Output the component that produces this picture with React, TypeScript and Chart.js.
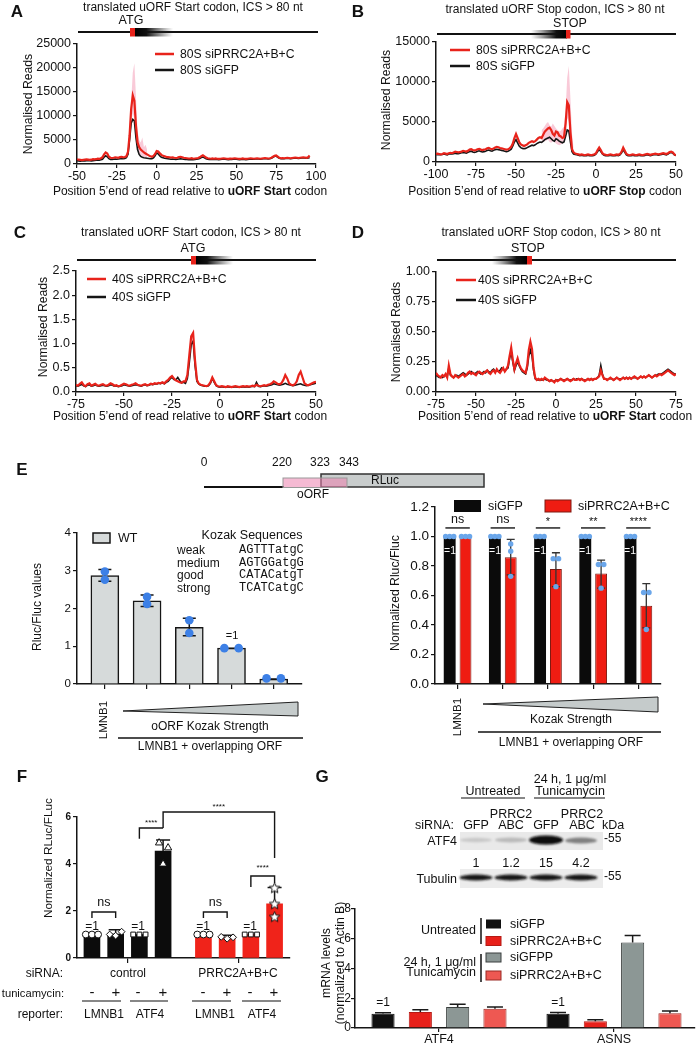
import React, { useEffect, useRef } from 'react';
import { Chart, registerables } from 'chart.js';

Chart.register(...registerables);

const SANS = '"Liberation Sans", Arial, Helvetica, sans-serif';
const MONO = '"Liberation Mono", "Courier New", monospace';
Chart.defaults.font.family = SANS;
Chart.defaults.color = '#111';

const RED = '#e8231b';
const INK = '#151515';
const PINK = 'rgba(243,150,178,0.5)';

// ================= DATA =================
// Panel A: 80S, uORF start codon (positions -50 .. 96)
const A_START = -50;
const A_RED = [
  1000, 900, 850, 800, 850, 900, 950, 900, 850, 900, 1000, 950, 1000, 1100, 1050,
  1200, 1400, 2000, 2400, 2200, 1500, 1300,
  1250, 1300, 1400, 1350, 1300, 1450, 1500, 1400, 1450, 1600,
  2500, 6000, 11500, 14300, 13200, 8000, 4500, 3500, 3000,
  2700, 2400, 2200, 2000, 1800, 1600, 1500, 1700, 2100,
  2700, 2600, 2200, 1900, 1700, 1600,
  1500, 1450, 1400, 1350, 1400, 1300, 1250, 1300, 1450, 1500, 1400, 1300, 1250, 1200, 1150,
  1150, 1200, 1100, 1150, 1200, 1250, 1400, 1650, 1800, 1600, 1350, 1200, 1150, 1100, 1150,
  1100, 1150, 1100, 1050, 1100, 1150, 1200, 1150, 1100, 1050, 1100, 1100, 1150, 1200, 1150, 1100, 1050, 1100, 1150, 1100, 1050, 1100, 1150, 1200, 1150,
  1100, 1150, 1200, 1150, 1100, 1150, 1200, 1250, 1200, 1150, 1200, 1300, 1500, 1700, 1800, 1550, 1300, 1200, 1250, 1200,
  1250, 1300, 1250, 1200, 1250, 1300, 1350, 1300, 1250, 1300, 1350, 1400, 1350, 1300, 1400, 1750,
];
const A_BLACK = [
  700, 650, 600, 650, 700, 650, 700, 750, 700, 650, 700, 750, 800, 850, 800,
  900, 1000, 1400, 1700, 1500, 1100, 950,
  950, 1000, 1050, 1000, 1050, 1100, 1150, 1100, 1150, 1300,
  2000, 5000, 8500, 9300, 9000, 5500, 3000, 2000, 1600,
  1400, 1300, 1250, 1200, 1150, 1100, 1100, 1300, 1700,
  2300, 2100, 1700, 1400, 1300, 1200,
  1150, 1100, 1050, 1000, 1050, 1000, 950, 1000, 1050, 1100, 1050, 1000, 950, 950, 900,
  900, 950, 900, 950, 1000, 1050, 1150, 1350, 1450, 1300, 1100, 1000, 950, 950, 1000,
  950, 1000, 950, 900, 950, 1000, 1050, 1000, 950, 900, 950, 950, 1000, 1050, 1000, 950, 900, 950, 1000, 950, 900, 950, 1000, 1050, 1000,
  1000, 1050, 1100, 1050, 1000, 1050, 1100, 1150, 1100, 1050, 1100, 1200, 1400, 1600, 1650, 1400, 1200, 1100, 1150, 1100,
  1150, 1200, 1150, 1100, 1150, 1200, 1250, 1200, 1150, 1200, 1250, 1300, 1250, 1200, 1250, 1300,
];
const A_BAND_START = -18;
const A_BAND_HI = [3500, 8000, 13000, 19000, 21000, 14000, 7000, 5000, 4500, 5500, 3500, 4000, 3000];
const A_BAND_LO = [1800, 4000, 8500, 10500, 9500, 5000, 3000, 2200, 1800, 1600, 1500, 1400, 1300];

// Panel B: 80S, uORF stop codon (positions -100 .. 50)
const B_START = -100;
const B_RED = [
  1000, 1050, 1000, 950, 1000, 1100, 1050, 1000, 1100, 1150, 1100, 1200, 1300, 1250, 1200,
  1250, 1300, 1400, 1350, 1300, 1400, 1550, 1600, 1500, 1450, 1500, 1600, 1650, 1550, 1500,
  1550, 1600, 1700, 1750, 1650, 1600, 1700, 1800, 1900, 1850, 1750, 1700, 1650, 1600, 1550,
  1600, 1700, 1900, 2300, 3000, 3500, 3000, 2500, 2200, 2100,
  2000, 2100, 2200, 2400, 2500, 2600, 2500, 2600, 2800, 3000, 3100, 3000, 3400, 3800, 4000,
  4200, 4300, 4000, 3500, 3300, 3800, 3700, 3300, 3200, 3000, 3100, 4800, 7500, 7100, 3800, 1600, 1200, 1050, 1000,
  950, 900, 950, 900, 850, 900, 950, 900, 850, 900, 950, 1100,
  1500, 1800, 1500, 1100, 950, 900, 850, 900, 950, 900,
  850, 900, 950, 900, 1000, 1300, 1800, 1400, 1000, 900, 850, 900, 950, 900, 850,
  900, 950, 900, 850, 900, 950, 1000, 950, 900, 950, 1000, 1050, 1000, 950, 1000,
  1050, 1100, 1050, 1000, 1100, 1250, 1300, 1200, 950, 850,
];
const B_BLACK = [
  950, 900, 950, 900, 950, 1000, 950, 900, 1000, 1050, 1000, 1050, 1100, 1050, 1050,
  1100, 1150, 1200, 1150, 1100, 1200, 1300, 1350, 1250, 1200, 1250, 1350, 1400, 1300, 1250,
  1300, 1350, 1450, 1500, 1400, 1350, 1450, 1550, 1600, 1550, 1500, 1450, 1400, 1350, 1300,
  1350, 1450, 1600, 2000, 2500, 2800, 2400, 2000, 1800, 1700,
  1650, 1700, 1800, 1900, 2000, 2100, 2050, 2150, 2300, 2400, 2500, 2450, 2600, 2800, 2900,
  3000, 3100, 2900, 2700, 2600, 2900, 2800, 2600, 2500, 2400, 2500, 3200, 4000, 3900, 2500, 1300, 1000, 950, 900,
  850, 800, 850, 800, 780, 800, 850, 800, 780, 800, 850, 1000,
  1300, 1550, 1300, 1000, 850, 800, 780, 800, 850, 800,
  780, 800, 850, 800, 900, 1150, 1550, 1200, 900, 800, 780, 800, 850, 800, 780,
  800, 850, 800, 780, 800, 850, 900, 850, 800, 850, 900, 950, 900, 850, 900,
  950, 1000, 950, 900, 1000, 1150, 1200, 1100, 900, 800,
];
const B_BAND_START = -34;
const B_BAND_HI = [4000, 4200, 4500, 4800, 5000, 4600, 4400, 4800, 4500, 4200, 4000, 3800, 3900, 4200, 4400, 6500, 10500, 12000, 8000, 3500, 1800];
const B_BAND_LO = [2400, 2500, 2600, 2700, 2800, 2500, 2400, 2600, 2500, 2300, 2200, 2100, 2200, 2300, 2400, 3600, 5500, 5000, 2800, 1200, 900];

// Panel C: 40S, uORF start codon (positions -75 .. 50)
const C_START = -75;
const C_RED = [
  0.15, 0.13, 0.17, 0.20, 0.14, 0.12, 0.16, 0.18, 0.13, 0.15, 0.17, 0.14, 0.13, 0.15, 0.16,
  0.14, 0.13, 0.15, 0.18, 0.16, 0.13, 0.14, 0.12, 0.13, 0.15, 0.17, 0.16, 0.14, 0.13, 0.15,
  0.16, 0.18, 0.15, 0.14, 0.13, 0.15, 0.16, 0.14, 0.15, 0.17, 0.16, 0.18, 0.17, 0.19, 0.18,
  0.20, 0.18, 0.22, 0.25, 0.30, 0.33, 0.28, 0.24, 0.22, 0.20, 0.19, 0.22,
  0.22, 0.35, 0.75, 1.15, 1.22, 0.65, 0.25, 0.17, 0.15,
  0.14, 0.13, 0.12, 0.14, 0.20, 0.30, 0.22, 0.14, 0.12, 0.11,
  0.12, 0.11, 0.10, 0.12, 0.11, 0.10, 0.11, 0.12, 0.11, 0.10, 0.11, 0.12, 0.11, 0.12, 0.11,
  0.12, 0.13, 0.12, 0.15, 0.13, 0.12, 0.13, 0.14, 0.13, 0.15, 0.16, 0.18, 0.22, 0.20, 0.17,
  0.16, 0.18, 0.25, 0.35, 0.28, 0.18, 0.15, 0.14, 0.16, 0.22, 0.35, 0.42, 0.30, 0.18, 0.15, 0.14, 0.16, 0.18, 0.20, 0.21,
];
const C_BLACK = [
  0.13, 0.12, 0.14, 0.16, 0.13, 0.11, 0.14, 0.15, 0.12, 0.13, 0.15, 0.13, 0.12, 0.13, 0.14,
  0.13, 0.12, 0.13, 0.15, 0.14, 0.12, 0.13, 0.11, 0.12, 0.13, 0.15, 0.14, 0.13, 0.12, 0.13,
  0.14, 0.15, 0.14, 0.13, 0.12, 0.14, 0.15, 0.13, 0.14, 0.16, 0.15, 0.17, 0.16, 0.18, 0.17,
  0.19, 0.17, 0.20, 0.22, 0.27, 0.30, 0.26, 0.25, 0.30, 0.24, 0.19, 0.20,
  0.18, 0.28, 0.60, 0.98, 1.05, 0.55, 0.22, 0.16, 0.14,
  0.13, 0.12, 0.12, 0.13, 0.18, 0.28, 0.20, 0.13, 0.11, 0.10,
  0.11, 0.10, 0.10, 0.11, 0.10, 0.10, 0.10, 0.11, 0.10, 0.10, 0.10, 0.11, 0.10, 0.11, 0.10,
  0.11, 0.12, 0.11, 0.20, 0.12, 0.11, 0.12, 0.13, 0.12, 0.13, 0.14, 0.15, 0.17, 0.16, 0.15,
  0.14, 0.15, 0.16, 0.18, 0.16, 0.15, 0.14, 0.13, 0.14, 0.15, 0.16, 0.17, 0.15, 0.14, 0.13, 0.14, 0.15, 0.16, 0.17, 0.18,
];

// Panel D: 40S, uORF stop codon (positions -75 .. 75)
const D_START = -75;
const D_RED = [
  0.16, 0.14, 0.13, 0.12, 0.14, 0.13, 0.15, 0.12, 0.22, 0.15, 0.13, 0.12, 0.14, 0.13, 0.12,
  0.13, 0.14, 0.15, 0.13, 0.14, 0.16, 0.17, 0.15, 0.16, 0.15, 0.14, 0.16, 0.17, 0.16, 0.15,
  0.16, 0.17, 0.18, 0.16, 0.15, 0.17, 0.18, 0.16, 0.19, 0.17, 0.16, 0.18, 0.20, 0.17, 0.19,
  0.22, 0.30, 0.37, 0.27, 0.19, 0.24, 0.28, 0.23, 0.20, 0.18, 0.17, 0.16,
  0.22, 0.35, 0.42, 0.36, 0.20, 0.12, 0.10, 0.11, 0.10,
  0.11, 0.10, 0.12, 0.11, 0.10, 0.09, 0.10, 0.09, 0.08, 0.10,
  0.09, 0.10, 0.11, 0.10, 0.09, 0.10, 0.11, 0.10, 0.09, 0.10, 0.11, 0.10, 0.10, 0.11, 0.10,
  0.11, 0.10, 0.09, 0.10, 0.11, 0.10, 0.11, 0.10, 0.11, 0.11, 0.12, 0.13, 0.18, 0.14, 0.11,
  0.11, 0.10, 0.11, 0.12, 0.11, 0.10, 0.11, 0.12, 0.11, 0.10, 0.11, 0.12, 0.11, 0.12, 0.11,
  0.12, 0.11, 0.12, 0.13, 0.12, 0.11, 0.12, 0.13, 0.12, 0.13, 0.12, 0.13, 0.14, 0.13, 0.12,
  0.13, 0.14, 0.13, 0.14, 0.15, 0.14, 0.15, 0.16, 0.17, 0.18, 0.17, 0.16, 0.15, 0.14, 0.15,
];
const D_BLACK = [
  0.14, 0.13, 0.12, 0.13, 0.12, 0.13, 0.14, 0.13, 0.20, 0.14, 0.13, 0.12, 0.13, 0.14, 0.13,
  0.14, 0.15, 0.16, 0.15, 0.14, 0.15, 0.16, 0.17, 0.16, 0.15, 0.16, 0.17, 0.16, 0.15, 0.16,
  0.17, 0.16, 0.18, 0.17, 0.16, 0.18, 0.19, 0.17, 0.18, 0.17, 0.18, 0.20, 0.19, 0.18, 0.19,
  0.20, 0.28, 0.33, 0.25, 0.18, 0.22, 0.25, 0.22, 0.19, 0.17, 0.16, 0.15,
  0.20, 0.30, 0.35, 0.30, 0.18, 0.11, 0.10, 0.10, 0.10,
  0.10, 0.10, 0.11, 0.10, 0.10, 0.09, 0.10, 0.09, 0.09, 0.10,
  0.10, 0.10, 0.11, 0.10, 0.10, 0.10, 0.11, 0.10, 0.10, 0.10, 0.11, 0.10, 0.11, 0.11, 0.10,
  0.11, 0.10, 0.10, 0.10, 0.11, 0.10, 0.11, 0.10, 0.11, 0.11, 0.12, 0.14, 0.22, 0.15, 0.11,
  0.11, 0.10, 0.11, 0.11, 0.11, 0.10, 0.11, 0.12, 0.11, 0.11, 0.11, 0.12, 0.11, 0.12, 0.11,
  0.12, 0.11, 0.12, 0.12, 0.12, 0.11, 0.12, 0.13, 0.12, 0.13, 0.12, 0.13, 0.14, 0.13, 0.12,
  0.13, 0.14, 0.14, 0.15, 0.15, 0.15, 0.16, 0.17, 0.18, 0.19, 0.18, 0.17, 0.16, 0.15, 0.15,
];

// Panel E left: Rluc/Fluc, WT
const EL_CATS = ['LMNB1', 'weak', 'medium', 'good', 'strong'];
const EL_VALUES = [2.87, 2.2, 1.5, 0.95, 0.13];
const EL_ERR_HI = [3.03, 2.36, 1.74, 0.95, 0.13];
const EL_ERR_LO = [2.72, 2.05, 1.28, 0.95, 0.13];
const EL_REPS = [[2.98, 2.76], [2.31, 2.12], [1.69, 1.35], [0.95, 0.95], [0.15, 0.15]];
const EL_JIT = [[0, 0], [0, 0], [0, 0], [-0.17, 0.17], [-0.17, 0.17]];
const KOZAK_NAMES = ['weak', 'medium', 'good', 'strong'];
const KOZAK_SEQS = ['AGTTTatgC', 'AGTGGatgG', 'CATACatgT', 'TCATCatgC'];

// Panel E right: Normalized Rluc/Fluc
const ER_CATS = ['LMNB1', 'weak', 'medium', 'good', 'strong'];
const ER_GFP = [1, 1, 1, 1, 1];
const ER_PRRC = [1.0, 0.86, 0.78, 0.75, 0.53];
const ER_ERR_HI = [null, 0.98, 0.89, 0.84, 0.68];
const ER_ERR_LO = [null, 0.74, 0.66, 0.65, 0.38];
const ER_GFP_REPS = [[1, 1, 1], [1, 1, 1], [1, 1, 1], [1, 1, 1], [1, 1, 1]];
const ER_GFP_JIT = [[-0.09, 0, 0.09], [-0.09, 0, 0.09], [-0.09, 0, 0.09], [-0.09, 0, 0.09], [-0.09, 0, 0.09]];
const ER_PRRC_REPS = [[1, 1, 1], [0.95, 0.9, 0.73], [0.85, 0.85, 0.66], [0.81, 0.81, 0.65], [0.62, 0.62, 0.37]];
const ER_PRRC_JIT = [[-0.09, 0, 0.09], [0, 0, 0], [-0.06, 0.06, 0], [-0.06, 0.06, 0], [-0.06, 0.06, 0]];
const ER_SIG = ['ns', 'ns', '*', '**', '****'];

// Panel F: Normalized RLuc/FLuc
const F_POS_CTRL = [0, 1, 2, 3];
const F_POS_PRRC = [4.7, 5.7, 6.7, 7.7];
const F_CTRL = [1.0, 1.02, 1.0, 4.55];
const F_PRRC = [1.0, 0.86, 1.0, 2.3];
const F_CTRL_ERR = [null, 1.2, null, 5.02];
const F_PRRC_ERR = [null, 0.97, null, 3.0];
const F_REPS_CTRL = [[1, 1, 1], [1.0, 0.95, 1.12], [1, 1, 1], [4.9, 4.0, 4.69]];
const F_JIT_CTRL = [[-0.26, 0, 0.26], [-0.25, 0, 0.25], [-0.26, 0, 0.26], [-0.17, 0, 0.21]];
const F_REPS_PRRC = [[1, 1, 1], [0.9, 0.82, 0.88], [1, 1, 1], [2.98, 2.3, 1.75]];
const F_JIT_PRRC = [[-0.26, 0, 0.26], [-0.25, 0, 0.25], [-0.26, 0, 0.26], [0, 0, 0]];
const F_SHAPES = ['circle', 'rectRot', 'rect', 'triangle'];
const F_TUNI = ['-', '+', '-', '+', '-', '+', '-', '+'];
const F_REPORTER = ['LMNB1', 'ATF4', 'LMNB1', 'ATF4'];

// Panel G: mRNA levels
const G_CATS = ['ATF4', 'ASNS'];
const G_SIGFP = [0.95, 0.95];
const G_SIPRRC = [1.08, 0.45];
const G_SIGFP_TUN = [1.42, 5.75];
const G_SIPRRC_TUN = [1.3, 1.0];
const G_ERR = [[1.02, 1.05], [1.22, 0.55], [1.6, 6.22], [1.42, 1.15]];
const G_BLOT_QUANT = ['1', '1.2', '15', '4.2'];

// ================= LAYOUT HELPERS =================
const AY = 60, PT = 14, PR = 18, AX = 30;
type Area = { l: number; t: number; r: number; b: number };
const boxOf = (a: Area) => ({ left: a.l - AY, top: a.t - PT, width: a.r - a.l + AY + PR, height: a.b - a.t + PT + AX });
const fixY = (s: any) => { s.width = AY; };
const fixX = (s: any) => { s.height = AX; };
const pts = (start: number, vals: number[]) => vals.map((v, i) => ({ x: start + i, y: v }));

const base = () => ({
  animation: false,
  responsive: false,
  events: [],
  layout: { padding: { top: PT, right: PR, left: 0, bottom: 0 } },
  plugins: { legend: { display: false }, tooltip: { enabled: false } },
});

function axisCommon(size: number, bold = false, tickLen = 4) {
  return {
    grid: { display: true, drawOnChartArea: false, drawTicks: true, tickLength: tickLen, color: INK, lineWidth: 1.2, offset: false },
    border: { display: true, color: INK, width: 1.5 },
    ticks: { font: { size, weight: bold ? 'bold' : 'normal' }, color: '#111', padding: 2 },
  };
}
function xLinear(min: number, max: number, step: number, size: number) {
  const c = axisCommon(size);
  return { type: 'linear', min, max, offset: false, afterFit: fixX, grid: c.grid, border: c.border,
    ticks: { ...c.ticks, stepSize: step, padding: 1, autoSkip: false, maxRotation: 0, callback: (v: number) => String(v) } };
}
function yLinear(min: number, max: number, step: number, size: number, fmt: (v: number) => string, bold = false, pad = 2) {
  const c = axisCommon(size, bold);
  return { type: 'linear', min, max, afterFit: fixY, grid: c.grid, border: c.border,
    ticks: { ...c.ticks, padding: pad, stepSize: step, callback: (v: number) => fmt(v) } };
}
function xFixed(min: number, max: number, tickVals: number[], tickLen: number, labels?: (v: number) => string, size = 12) {
  const c = axisCommon(size, false, tickLen);
  const ticks: any = { ...c.ticks, display: !!labels, padding: 0, autoSkip: false, maxRotation: 0 };
  if (labels) ticks.callback = (v: number) => labels(v);
  return { type: 'linear', min, max, offset: false, afterFit: fixX,
    afterBuildTicks: (s: any) => { s.ticks = tickVals.map((v) => ({ value: v })); },
    grid: c.grid, border: c.border, ticks };
}

function errBars(items: any[]) {
  return {
    id: 'errbars',
    afterDatasetDraw(chart: any, args: any) {
      const ctx = chart.ctx;
      for (const it of items) {
        if (it.ds !== args.index) continue;
        const meta = chart.getDatasetMeta(it.ds);
        const ys = chart.scales.y;
        ctx.save();
        ctx.strokeStyle = it.color;
        ctx.lineWidth = it.width;
        meta.data.forEach((el: any, i: number) => {
          const hv = it.hi[i];
          if (hv == null) return;
          const x = el.x;
          const yh = ys.getPixelForValue(hv);
          const hasLo = it.lo && it.lo[i] != null;
          const yl = hasLo ? ys.getPixelForValue(it.lo[i]) : el.y;
          const h = it.cap / 2;
          ctx.beginPath();
          ctx.moveTo(x, yl); ctx.lineTo(x, yh);
          ctx.moveTo(x - h, yh); ctx.lineTo(x + h, yh);
          if (hasLo) { ctx.moveTo(x - h, yl); ctx.lineTo(x + h, yl); }
          ctx.stroke();
        });
        ctx.restore();
      }
    },
  };
}

function sigMarks(items: any[], xId: string) {
  return {
    id: 'sigmarks',
    afterDraw(chart: any) {
      const ctx = chart.ctx;
      const xs = chart.scales[xId];
      const ys = chart.scales.y;
      ctx.save();
      ctx.strokeStyle = INK;
      ctx.lineWidth = 1.4;
      ctx.fillStyle = '#111';
      ctx.textAlign = 'center';
      ctx.textBaseline = 'middle';
      for (const it of items) {
        const x1 = xs.getPixelForValue(it.x1), x2 = xs.getPixelForValue(it.x2), y = ys.getPixelForValue(it.y);
        ctx.beginPath();
        if (it.l1 != null) { ctx.moveTo(x1, ys.getPixelForValue(it.l1)); ctx.lineTo(x1, y); } else ctx.moveTo(x1, y);
        ctx.lineTo(x2, y);
        if (it.l2 != null) ctx.lineTo(x2, ys.getPixelForValue(it.l2));
        ctx.stroke();
        ctx.font = `${it.size}px ${SANS}`;
        ctx.fillText(it.text, (x1 + x2) / 2, ys.getPixelForValue(it.ty));
      }
      ctx.restore();
    },
  };
}

function starImage(): HTMLCanvasElement {
  const c = document.createElement('canvas');
  c.width = 13; c.height = 13;
  const g = c.getContext('2d')!;
  g.beginPath();
  for (let k = 0; k < 10; k++) {
    const r = k % 2 ? 2.5 : 5.5;
    const a = -Math.PI / 2 + (k * Math.PI) / 5;
    g.lineTo(6.5 + r * Math.cos(a), 6.8 + r * Math.sin(a));
  }
  g.closePath();
  g.fillStyle = '#fff'; g.fill();
  g.strokeStyle = '#111'; g.lineWidth = 1; g.stroke();
  return c;
}

// ================= CHART CONFIGS =================
interface LineSpec {
  start: number; red: number[]; black: number[];
  band?: { start: number; hi: number[]; lo: number[] };
  xmin: number; xmax: number; ymax: number; ystep: number; fmt: (v: number) => string;
  redLabel: string; blackLabel: string;
}
function lineConfig(s: LineSpec) {
  const ds: any[] = [
    { label: s.redLabel, data: pts(s.start, s.red), borderColor: RED, borderWidth: 2.2 },
    { label: s.blackLabel, data: pts(s.start, s.black), borderColor: INK, borderWidth: 1.6 },
  ];
  if (s.band) {
    ds.push({ label: 'upper', data: pts(s.band.start, s.band.hi), borderWidth: 0, borderColor: 'rgba(0,0,0,0)', backgroundColor: PINK, fill: '+1' });
    ds.push({ label: 'lower', data: pts(s.band.start, s.band.lo), borderWidth: 0, borderColor: 'rgba(0,0,0,0)', fill: false });
  }
  ds.forEach((d) => { d.pointRadius = 0; d.tension = 0; if (d.fill === undefined) d.fill = false; });
  return {
    type: 'line',
    data: { datasets: ds },
    options: { ...base(), scales: { x: xLinear(s.xmin, s.xmax, 25, 12.5), y: yLinear(0, s.ymax, s.ystep, 12.5, s.fmt) } },
  };
}

function eLeftConfig() {
  const dots = {
    type: 'scatter', label: 'replicates',
    data: EL_REPS.flatMap((r, i) => r.map((v, j) => ({ x: i + EL_JIT[i][j], y: v }))),
    backgroundColor: '#3d80e6', borderWidth: 0, pointRadius: 4.3, order: 1,
  };
  const bar = {
    type: 'bar', label: 'WT', data: EL_VALUES.map((v, i) => ({ x: i, y: v })),
    backgroundColor: '#d6dada', borderColor: INK, borderWidth: 1.5, barThickness: 28, order: 2,
  };
  return {
    type: 'bar',
    data: { labels: EL_CATS, datasets: [dots, bar] },
    options: { ...base(), scales: { x: xFixed(-0.66, 4.67, [0, 1, 2, 3, 4], 5), y: yLinear(0, 4, 1, 11.5, (v) => String(v)) } },
    plugins: [errBars([{ ds: 1, hi: EL_ERR_HI, lo: EL_ERR_LO, cap: 13, color: INK, width: 1.5 }])],
  };
}

function eRightConfig() {
  const gfpDots = {
    type: 'scatter', label: 'siGFP replicates',
    data: ER_GFP_REPS.flatMap((r, i) => r.map((v, j) => ({ x: i - 0.175 + ER_GFP_JIT[i][j], y: v }))),
    backgroundColor: '#6aa6ea', borderWidth: 0, pointRadius: 2.7, order: 1,
  };
  const prDots = {
    type: 'scatter', label: 'siPRRC2 replicates',
    data: ER_PRRC_REPS.flatMap((r, i) => r.map((v, j) => ({ x: i + 0.175 + ER_PRRC_JIT[i][j], y: v }))),
    backgroundColor: '#6aa6ea', borderWidth: 0, pointRadius: 2.7, order: 1,
  };
  const gfp = { type: 'bar', label: 'siGFP', data: ER_GFP.map((v, i) => ({ x: i, y: v })), backgroundColor: '#0b0b0b', categoryPercentage: 0.7, barPercentage: 0.75, order: 2 };
  const pr = { type: 'bar', label: 'siPRRC2A+B+C', data: ER_PRRC.map((v, i) => ({ x: i, y: v })), backgroundColor: '#ef1c12', borderColor: '#7e1a12', borderWidth: 1, categoryPercentage: 0.7, barPercentage: 0.75, order: 2 };
  const sig = ER_SIG.map((t, g) => ({ x1: g - 0.27, x2: g + 0.27, y: 1.058, text: t, ty: t === 'ns' ? 1.115 : 1.1, size: t === 'ns' ? 12.5 : 11 }));
  return {
    type: 'bar',
    data: { labels: ER_CATS, datasets: [gfpDots, prDots, gfp, pr] },
    options: {
      ...base(),
      scales: {
        x: xFixed(-0.5, 4.5, [0, 1, 2, 3, 4], 5),
        y: yLinear(0, 1.2, 0.2, 13.5, (v) => v.toFixed(1)),
      },
    },
    plugins: [errBars([{ ds: 3, hi: ER_ERR_HI, lo: ER_ERR_LO, cap: 8, color: '#333', width: 1.3 }]), sigMarks(sig, 'x')],
  };
}

function fConfig() {
  const star = starImage();
  const markers: any[] = [];
  F_REPS_CTRL.forEach((r, i) => markers.push({
    type: 'scatter', label: 'control rep', data: r.map((v, j) => ({ x: F_POS_CTRL[i] + F_JIT_CTRL[i][j], y: v })),
    pointStyle: F_SHAPES[i], pointRadius: F_SHAPES[i] === 'triangle' ? 4.2 : 3.4,
    backgroundColor: '#fff', borderColor: '#111', borderWidth: 1, order: 1,
  }));
  F_REPS_PRRC.forEach((r, i) => markers.push({
    type: 'scatter', label: 'PRRC2 rep', data: r.map((v, j) => ({ x: F_POS_PRRC[i] + F_JIT_PRRC[i][j], y: v })),
    pointStyle: i === 3 ? star : F_SHAPES[i], pointRadius: 3.4,
    backgroundColor: '#fff', borderColor: '#111', borderWidth: 1, order: 1,
  }));
  const ctrl = { type: 'bar', label: 'control', data: F_CTRL.map((v, i) => ({ x: F_POS_CTRL[i], y: v })), backgroundColor: '#0c0c0c', barThickness: 16, grouped: false, order: 2 };
  const prrc = { type: 'bar', label: 'PRRC2A+B+C', data: F_PRRC.map((v, i) => ({ x: F_POS_PRRC[i], y: v })), backgroundColor: '#f0231a', barThickness: 16, grouped: false, order: 2 };
  const sig = [
    { x1: 0, x2: 1, y: 1.96, l1: 1.7, l2: 1.7, text: 'ns', ty: 2.34, size: 12.5 },
    { x1: 4.7, x2: 5.7, y: 1.96, l1: 1.7, l2: 1.7, text: 'ns', ty: 2.34, size: 12.5 },
    { x1: 2, x2: 3, y: 5.53, l1: 5.07, text: '****', ty: 5.76, size: 8 },
    { x1: 3, x2: 7.7, y: 6.21, l1: 5.53, l2: 4.26, text: '****', ty: 6.42, size: 8 },
    { x1: 6.7, x2: 7.7, y: 3.49, l1: 3.02, l2: 3.19, text: '****', ty: 3.82, size: 8 },
  ];
  return {
    type: 'bar',
    data: { datasets: [...markers, ctrl, prrc] },
    options: { ...base(), scales: { x: xFixed(-0.63, 8.35, [1.5, 6.2], 5), y: yLinear(0, 6, 2, 10, (v) => String(v), true) } },
    plugins: [
      errBars([
        { ds: 8, hi: F_CTRL_ERR, cap: 14, color: INK, width: 1.5 },
        { ds: 9, hi: F_PRRC_ERR, cap: 14, color: INK, width: 1.5 },
      ]),
      sigMarks(sig, 'x'),
    ],
  };
}

const G_SERIES = [
  { label: 'siGFP (untreated)', vals: G_SIGFP, color: '#101010', border: '#101010' },
  { label: 'siPRRC2A+B+C (untreated)', vals: G_SIPRRC, color: '#e8201a', border: '#b51a14' },
  { label: 'siGFP (tunicamycin)', vals: G_SIGFP_TUN, color: '#8c9795', border: '#3a3f3e' },
  { label: 'siPRRC2A+B+C (tunicamycin)', vals: G_SIPRRC_TUN, color: '#ee5852', border: '#9a2a24' },
];
function gConfig() {
  const ds = G_SERIES.map((s) => ({
    type: 'bar', label: s.label, data: s.vals.map((v, i) => ({ x: i, y: v })),
    backgroundColor: s.color, borderColor: s.border, borderWidth: 1, categoryPercentage: 0.853, barPercentage: 0.62,
  }));
  return {
    type: 'bar',
    data: { datasets: ds },
    options: { ...base(), scales: { x: xFixed(-0.48, 1.463, [0, 1], 4, (v) => G_CATS[v] ?? '', 12.5), y: yLinear(0, 8, 2, 12, (v) => String(v), false, 0) } },
    plugins: [errBars(G_ERR.map((e, k) => ({ ds: k, hi: e, cap: 16, color: '#1a1a1a', width: 1.5 })))],
  };
}

// ================= COMPONENTS =================
function ChartBox({ area, make, label }: { area: Area; make: () => any; label: string }) {
  const ref = useRef<HTMLCanvasElement>(null);
  useEffect(() => {
    const chart = new Chart(ref.current as HTMLCanvasElement, make());
    return () => chart.destroy();
  }, []);
  const b = boxOf(area);
  return (
    <canvas ref={ref} width={b.width} height={b.height} aria-label={label}
      style={{ position: 'absolute', left: b.left, top: b.top, width: b.width, height: b.height }} />
  );
}

type TP = { x: number; y: number; s?: number; a?: 's' | 'm' | 'e'; b?: boolean; c?: string; f?: string; r?: boolean; children: React.ReactNode };
function T({ x, y, s = 12, a = 'm', b = false, c = '#111', f = SANS, r = false, children }: TP) {
  const tx = a === 'm' ? '-50%' : a === 'e' ? '-100%' : '0%';
  return (
    <div style={{ position: 'absolute', left: x, top: y, transform: `translate(${tx},-50%)${r ? ' rotate(-90deg)' : ''}`,
      fontSize: s, fontFamily: f, fontWeight: b ? 700 : 400, color: c, whiteSpace: 'nowrap', lineHeight: 1.15 }}>
      {children}
    </div>
  );
}

const TITLE_START = 'translated uORF Start codon, ICS > 80 nt';
const TITLE_STOP = 'translated uORF Stop codon, ICS > 80 nt';
function XTitle({ x, y, bold }: { x: number; y: number; bold: string }) {
  return <T x={x} y={y} s={12}>Position 5’end of read relative to <b>{bold}</b> codon</T>;
}

const AREA_A: Area = { l: 77, t: 44, r: 316, b: 164 };
const AREA_B: Area = { l: 436, t: 42, r: 676, b: 162 };
const AREA_C: Area = { l: 76, t: 271, r: 316, b: 392 };
const AREA_D: Area = { l: 436, t: 272, r: 676, b: 392 };
const AREA_EL: Area = { l: 77, t: 533, r: 302, b: 684 };
const AREA_ER: Area = { l: 435, t: 507, r: 661, b: 684 };
const AREA_F: Area = { l: 77, t: 817, r: 290, b: 958 };
const AREA_G: Area = { l: 355, t: 909, r: 695, b: 1028 };

const F_BAR_X = [92, 116, 138, 163, 203, 227, 250, 274];
const ER_BLACK_X = [450, 495, 540, 585, 630];
const BLOT_LANES = [476, 511, 546, 581];

export default function App() {
  return (
    <div style={{ position: 'absolute', left: 0, top: 0, width: 696, height: 1045, overflow: 'hidden', background: '#fff', fontFamily: SANS, color: '#111' }}>
      <ChartBox area={AREA_A} label="Panel A" make={() => lineConfig({ start: A_START, red: A_RED, black: A_BLACK, band: { start: A_BAND_START, hi: A_BAND_HI, lo: A_BAND_LO }, xmin: -50, xmax: 100, ymax: 25000, ystep: 5000, fmt: (v) => String(v), redLabel: '80S siPRRC2A+B+C', blackLabel: '80S siGFP' })} />
      <ChartBox area={AREA_B} label="Panel B" make={() => lineConfig({ start: B_START, red: B_RED, black: B_BLACK, band: { start: B_BAND_START, hi: B_BAND_HI, lo: B_BAND_LO }, xmin: -100, xmax: 50, ymax: 15000, ystep: 5000, fmt: (v) => String(v), redLabel: '80S siPRRC2A+B+C', blackLabel: '80S siGFP' })} />
      <ChartBox area={AREA_C} label="Panel C" make={() => lineConfig({ start: C_START, red: C_RED, black: C_BLACK, xmin: -75, xmax: 50, ymax: 2.5, ystep: 0.5, fmt: (v) => v.toFixed(1), redLabel: '40S siPRRC2A+B+C', blackLabel: '40S siGFP' })} />
      <ChartBox area={AREA_D} label="Panel D" make={() => lineConfig({ start: D_START, red: D_RED, black: D_BLACK, xmin: -75, xmax: 75, ymax: 1, ystep: 0.25, fmt: (v) => v.toFixed(2), redLabel: '40S siPRRC2A+B+C', blackLabel: '40S siGFP' })} />
      <ChartBox area={AREA_EL} label="Panel E left" make={eLeftConfig} />
      <ChartBox area={AREA_ER} label="Panel E right" make={eRightConfig} />
      <ChartBox area={AREA_F} label="Panel F" make={fConfig} />
      <ChartBox area={AREA_G} label="Panel G" make={gConfig} />

      <svg width={696} height={1045} style={{ position: 'absolute', left: 0, top: 0, pointerEvents: 'none' }}>
        <defs>
          <linearGradient id="fadeR" x1="0" x2="1" y1="0" y2="0">
            <stop offset="0" stopColor="#000" />
            <stop offset="0.3" stopColor="#111" />
            <stop offset="1" stopColor="#333" stopOpacity="0" />
          </linearGradient>
          <linearGradient id="fadeL" x1="0" x2="1" y1="0" y2="0">
            <stop offset="0" stopColor="#333" stopOpacity="0" />
            <stop offset="0.7" stopColor="#111" />
            <stop offset="1" stopColor="#000" />
          </linearGradient>
          <filter id="blur" x="-20%" y="-100%" width="140%" height="300%"><feGaussianBlur stdDeviation="1.2" /></filter>
        </defs>
        {/* schematic bars A-D */}
        <line x1={78} y1={32} x2={318} y2={32} stroke="#111" strokeWidth={2} />
        <rect x={135} y={28} width={38} height={8.5} fill="url(#fadeR)" />
        <rect x={130} y={28} width={5} height={8.5} fill={RED} />
        <line x1={437} y1={34} x2={676} y2={34} stroke="#111" strokeWidth={2} />
        <rect x={531} y={30} width={36} height={8.5} fill="url(#fadeL)" />
        <rect x={566} y={30} width={4.5} height={8.5} fill={RED} />
        <line x1={77} y1={260} x2={316} y2={260} stroke="#111" strokeWidth={2} />
        <rect x={196} y={256} width={37} height={8.5} fill="url(#fadeR)" />
        <rect x={191} y={256} width={5} height={8.5} fill={RED} />
        <line x1={437} y1={260} x2={676} y2={260} stroke="#111" strokeWidth={2} />
        <rect x={492} y={256} width={35} height={8.5} fill="url(#fadeL)" />
        <rect x={527} y={256} width={5} height={8.5} fill={RED} />
        {/* legends A-D */}
        <line x1={155} y1={54} x2={174} y2={54} stroke={RED} strokeWidth={2.5} />
        <line x1={155} y1={70} x2={174} y2={70} stroke={INK} strokeWidth={2.5} />
        <line x1={450} y1={50} x2={470} y2={50} stroke={RED} strokeWidth={2.5} />
        <line x1={450} y1={66} x2={470} y2={66} stroke={INK} strokeWidth={2.5} />
        <line x1={87} y1={279} x2={106} y2={279} stroke={RED} strokeWidth={2.5} />
        <line x1={87} y1={297} x2={106} y2={297} stroke={INK} strokeWidth={2.5} />
        <line x1={456} y1={280} x2={476} y2={280} stroke={RED} strokeWidth={2.5} />
        <line x1={456} y1={300} x2={476} y2={300} stroke={INK} strokeWidth={2.5} />
        {/* E construct schematic */}
        <line x1={204} y1={487} x2={284} y2={487} stroke="#111" strokeWidth={2} />
        <rect x={321} y={474} width={163} height={13} fill="#c9cdcd" stroke="#333" strokeWidth={1.5} />
        <rect x={283} y={478} width={64} height={9.5} fill="rgba(236,130,175,0.55)" stroke="#999" strokeWidth={1} />
        {/* E left legend + axis decorations */}
        <rect x={93} y={533} width={17} height={10} fill="#d6dada" stroke={INK} strokeWidth={1.5} />
        <polygon points="123,711 298,702 298,716" fill="#c5cbcb" stroke="#222" strokeWidth={1} />
        <line x1={118} y1={738} x2={303} y2={738} stroke="#111" strokeWidth={1.3} />
        {/* E right legend + axis decorations */}
        <rect x={454} y={500} width={27} height={12} fill="#0b0b0b" />
        <rect x={545} y={500} width={26} height={12} fill="#ef1c12" stroke="#7e1a12" strokeWidth={1} />
        <polygon points="483,704 658,697 658,712" fill="#c5cbcb" stroke="#222" strokeWidth={1} />
        <line x1={478} y1={732} x2={661} y2={732} stroke="#111" strokeWidth={1.3} />
        {/* F tunicamycin underlines */}
        <line x1={82} y1={1001} x2={121} y2={1001} stroke="#111" strokeWidth={1.2} />
        <line x1={130} y1={1001} x2={168} y2={1001} stroke="#111" strokeWidth={1.2} />
        <line x1={192} y1={1001} x2={231} y2={1001} stroke="#111" strokeWidth={1.2} />
        <line x1={242} y1={1001} x2={281} y2={1001} stroke="#111" strokeWidth={1.2} />
        {/* G western blot */}
        <line x1={461} y1={798} x2={525} y2={798} stroke="#111" strokeWidth={1.2} />
        <line x1={534} y1={798} x2={605} y2={798} stroke="#111" strokeWidth={1.2} />
        <rect x={460} y={832} width={143} height={18} fill="#e9e9e9" />
        <g filter="url(#blur)">
          <ellipse cx={BLOT_LANES[0]} cy={840} rx={16} ry={2.2} fill="rgba(0,0,0,0.14)" />
          <ellipse cx={BLOT_LANES[1]} cy={840} rx={16} ry={2.4} fill="rgba(0,0,0,0.2)" />
          <ellipse cx={BLOT_LANES[2]} cy={840} rx={17} ry={4.5} fill="#0d0d0d" />
          <ellipse cx={BLOT_LANES[3]} cy={840.5} rx={16} ry={3} fill="rgba(0,0,0,0.45)" />
        </g>
        <rect x={460} y={869} width={143} height={19} fill="#ececec" />
        <g filter="url(#blur)">
          {BLOT_LANES.map((cx) => <ellipse key={cx} cx={cx} cy={877.5} rx={16.5} ry={3} fill="#151515" />)}
        </g>
        {/* G legend */}
        <line x1={481} y1={918} x2={481} y2={944} stroke="#111" strokeWidth={1.5} />
        <line x1={481} y1={954} x2={481} y2={982} stroke="#111" strokeWidth={1.5} />
        <rect x={486} y={919.5} width={15} height={9} fill="#101010" />
        <rect x={486} y={936.5} width={15} height={9} fill="#e8201a" stroke="#b51a14" strokeWidth={1} />
        <rect x={486} y={953} width={15} height={9} fill="#8c9795" stroke="#3a3f3e" strokeWidth={1} />
        <rect x={486} y={971} width={15} height={9} fill="#ee5852" stroke="#9a2a24" strokeWidth={1} />
      </svg>

      {/* Panel A texts */}
      <T x={17} y={12} s={17} b>A</T>
      <T x={193} y={8}>{TITLE_START}</T>
      <T x={131} y={20} s={12.5}>ATG</T>
      <T x={28} y={104} s={12.2} r>Normalised Reads</T>
      <T x={180} y={54} s={12.2} a="s">80S siPRRC2A+B+C</T>
      <T x={180} y={70} s={12.2} a="s">80S siGFP</T>
      <XTitle x={190} y={192} bold="uORF Start" />

      {/* Panel B texts */}
      <T x={358} y={12} s={17} b>B</T>
      <T x={555} y={10}>{TITLE_STOP}</T>
      <T x={570} y={23} s={12.5}>STOP</T>
      <T x={386} y={100} s={12.2} r>Normalised Reads</T>
      <T x={476} y={50} s={12.2} a="s">80S siPRRC2A+B+C</T>
      <T x={476} y={66} s={12.2} a="s">80S siGFP</T>
      <XTitle x={545} y={192} bold="uORF Stop" />

      {/* Panel C texts */}
      <T x={20} y={233} s={17} b>C</T>
      <T x={191} y={233}>{TITLE_START}</T>
      <T x={193} y={248} s={12.5}>ATG</T>
      <T x={43} y={327} s={12.2} r>Normalised Reads</T>
      <T x={112} y={279} s={12.2} a="s">40S siPRRC2A+B+C</T>
      <T x={112} y={297} s={12.2} a="s">40S siGFP</T>
      <XTitle x={190} y={417} bold="uORF Start" />

      {/* Panel D texts */}
      <T x={358} y={233} s={17} b>D</T>
      <T x={551} y={233}>{TITLE_STOP}</T>
      <T x={528} y={248} s={12.5}>STOP</T>
      <T x={396} y={332} s={12.2} r>Normalised Reads</T>
      <T x={478} y={280} s={12.2} a="s">40S siPRRC2A+B+C</T>
      <T x={478} y={300} s={12.2} a="s">40S siGFP</T>
      <XTitle x={555} y={417} bold="uORF Start" />

      {/* Panel E texts */}
      <T x={22} y={470} s={17} b>E</T>
      <T x={204} y={463} s={12}>0</T>
      <T x={282} y={463} s={12}>220</T>
      <T x={320} y={463} s={12}>323</T>
      <T x={349} y={463} s={12}>343</T>
      <T x={313} y={495} s={12}>oORF</T>
      <T x={385} y={481} s={12}>RLuc</T>
      <T x={38} y={607} s={12} r>Rluc/Fluc values</T>
      <T x={118} y={538} s={12.5} a="s">WT</T>
      <T x={252} y={535} s={12.5}>Kozak Sequences</T>
      {KOZAK_NAMES.map((n, i) => <T key={n} x={177} y={551 + i * 12.7} s={12} a="s">{n}</T>)}
      {KOZAK_SEQS.map((q, i) => <T key={q} x={239} y={551 + i * 12.7} s={12} a="s" f={MONO}>{q}</T>)}
      <T x={232} y={635} s={11}>=1</T>
      <T x={104} y={720} s={11.5} r>LMNB1</T>
      <T x={210} y={727} s={12}>oORF Kozak Strength</T>
      <T x={210} y={747} s={12}>LMNB1 + overlapping ORF</T>
      <T x={395} y={593} s={12.2} r>Normalized Rluc/Fluc</T>
      <T x={488} y={506} s={12.5} a="s">siGFP</T>
      <T x={578} y={506} s={12.5} a="s">siPRRC2A+B+C</T>
      {ER_BLACK_X.map((x) => <T key={x} x={x} y={550} s={10.5} c="#fff">=1</T>)}
      <T x={458} y={717} s={11.5} r>LMNB1</T>
      <T x={571} y={720} s={12}>Kozak Strength</T>
      <T x={571} y={743} s={12}>LMNB1 + overlapping ORF</T>

      {/* Panel F texts */}
      <T x={22} y={777} s={17} b>F</T>
      <T x={49} y={858} s={11.8} r>Normalized RLuc/FLuc</T>
      {[0, 2, 4, 6].map((i) => <T key={i} x={F_BAR_X[i]} y={927} s={12}>=1</T>)}
      <T x={63} y={974} s={12} a="e">siRNA:</T>
      <T x={128} y={974} s={12}>control</T>
      <T x={238} y={974} s={12}>PRRC2A+B+C</T>
      <T x={64} y={993} s={11.2} a="e">tunicamycin:</T>
      {F_TUNI.map((t, i) => <T key={i} x={F_BAR_X[i]} y={992} s={15}>{t}</T>)}
      <T x={63} y={1015} s={12} a="e">reporter:</T>
      {F_REPORTER.map((t, i) => <T key={i} x={[104, 150, 215, 262][i]} y={1015} s={12}>{t}</T>)}

      {/* Panel G texts */}
      <T x={322} y={777} s={17} b>G</T>
      <T x={493} y={791} s={12.5}>Untreated</T>
      <T x={570} y={779} s={12.5}>24 h, 1 μg/ml</T>
      <T x={570} y={791} s={12.5}>Tunicamycin</T>
      <T x={454} y={825} s={12.5} a="e">siRNA:</T>
      <T x={476} y={825} s={12.5}>GFP</T>
      <T x={511} y={814} s={12.5}>PRRC2</T>
      <T x={511} y={825} s={12.5}>ABC</T>
      <T x={546} y={825} s={12.5}>GFP</T>
      <T x={582} y={814} s={12.5}>PRRC2</T>
      <T x={582} y={825} s={12.5}>ABC</T>
      <T x={613} y={825} s={12.5}>kDa</T>
      <T x={457} y={841} s={12.5} a="e">ATF4</T>
      <T x={604} y={839} s={12} a="s">-55</T>
      {G_BLOT_QUANT.map((q, i) => <T key={q} x={BLOT_LANES[i]} y={863} s={12.5}>{q}</T>)}
      <T x={457} y={879} s={12.5} a="e">Tubulin</T>
      <T x={604} y={877} s={12} a="s">-55</T>
      <T x={326} y={963} s={12.2} r>mRNA levels</T>
      <T x={339.5} y={963} s={12.2} r>(normalized to Actin B)</T>
      <T x={476} y={930} s={12.5} a="e">Untreated</T>
      <T x={510} y={924} s={12.5} a="s">siGFP</T>
      <T x={510} y={941} s={12.5} a="s">siPRRC2A+B+C</T>
      <T x={476} y={962} s={12.5} a="e">24 h, 1 μg/ml</T>
      <T x={476} y={972} s={12.5} a="e">Tunicamycin</T>
      <T x={510} y={957} s={12.5} a="s">siGFPP</T>
      <T x={510} y={975} s={12.5} a="s">siPRRC2A+B+C</T>
      <T x={383} y={1003} s={12}>=1</T>
      <T x={558} y={1003} s={12}>=1</T>
    </div>
  );
}
